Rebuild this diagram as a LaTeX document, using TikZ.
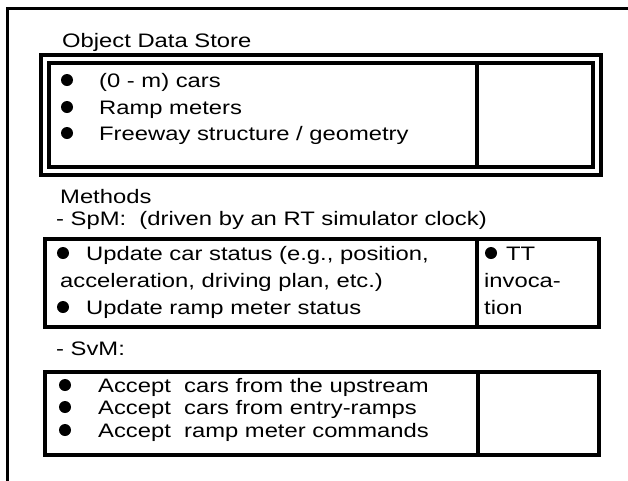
\documentclass[tikz,border=0pt]{standalone}
\usepackage{fontspec}
\setmainfont{Liberation Sans}[FakeStretch=1.22]

\begin{document}
\begin{tikzpicture}[x=1pt, y=-1pt]
\tikzstyle{Frame}=[line width=4pt]
\tikzstyle{Txt}=[anchor=base west, inner sep=0pt, font=\fontsize{19.5}{23}\selectfont]
\tikzstyle{Bullet}=[circle, fill=black, inner sep=0pt, minimum size=12pt]
\useasboundingbox (0,0) rectangle (628,480);

% page frame, only top and left edges show
\draw[line width=3.5pt] (7.5,485) -- (7.5,8.5) -- (635,8.5);

% object data store
\node[Txt] (ods) at (62,47) {Object Data Store};
\draw[Frame] (40.5,55) rectangle (601,175);
\draw[Frame] (49,62.5) rectangle (592.5,167);
\draw[Frame] (477,62.5) -- (477,167);
\node[Bullet] (ob1) at (67,80) {};
\node[Bullet] (ob2) at (67,107) {};
\node[Bullet] (ob3) at (67,133) {};
\node[Txt] (ot1) at (99,87) {(0 - m) cars};
\node[Txt] (ot2) at (99,114) {Ramp meters};
\node[Txt] (ot3) at (99,140) {Freeway structure / geometry};

% methods, SpM part
\node[Txt] (meth) at (60,203) {Methods};
\node[Txt] (spm) at (56,225) {- SpM:\ \ (driven by an RT simulator clock)};
\draw[Frame] (45,239) rectangle (599,327);
\draw[Frame] (476.5,239) -- (476.5,327);
\node[Bullet] (pb1) at (63,253) {};
\node[Bullet] (pb2) at (63,307) {};
\node[Txt] (pt1) at (86,260) {Update car status (e.g., position,};
\node[Txt] (pt2) at (60,287) {acceleration, driving plan, etc.)};
\node[Txt] (pt3) at (86,314) {Update ramp meter status};
\node[Bullet] (pb3) at (491,253) {};
\node[Txt] (tt1) at (506,260) {TT};
\node[Txt] (tt2) at (484,287) {invoca-};
\node[Txt] (tt3) at (484,314) {tion};

% SvM part
\node[Txt] (svm) at (56,355) {- SvM:};
\draw[Frame] (45,372) rectangle (599,455);
\draw[Frame] (478,372) -- (478,455);
\node[Bullet] (vb1) at (65,385) {};
\node[Bullet] (vb2) at (65,407) {};
\node[Bullet] (vb3) at (65,430) {};
\node[Txt] (vt1) at (98,392) {Accept\ \ cars from the upstream};
\node[Txt] (vt2) at (98,414) {Accept\ \ cars from entry-ramps};
\node[Txt] (vt3) at (98,437) {Accept\ \ ramp meter commands};
\end{tikzpicture}
\end{document}
